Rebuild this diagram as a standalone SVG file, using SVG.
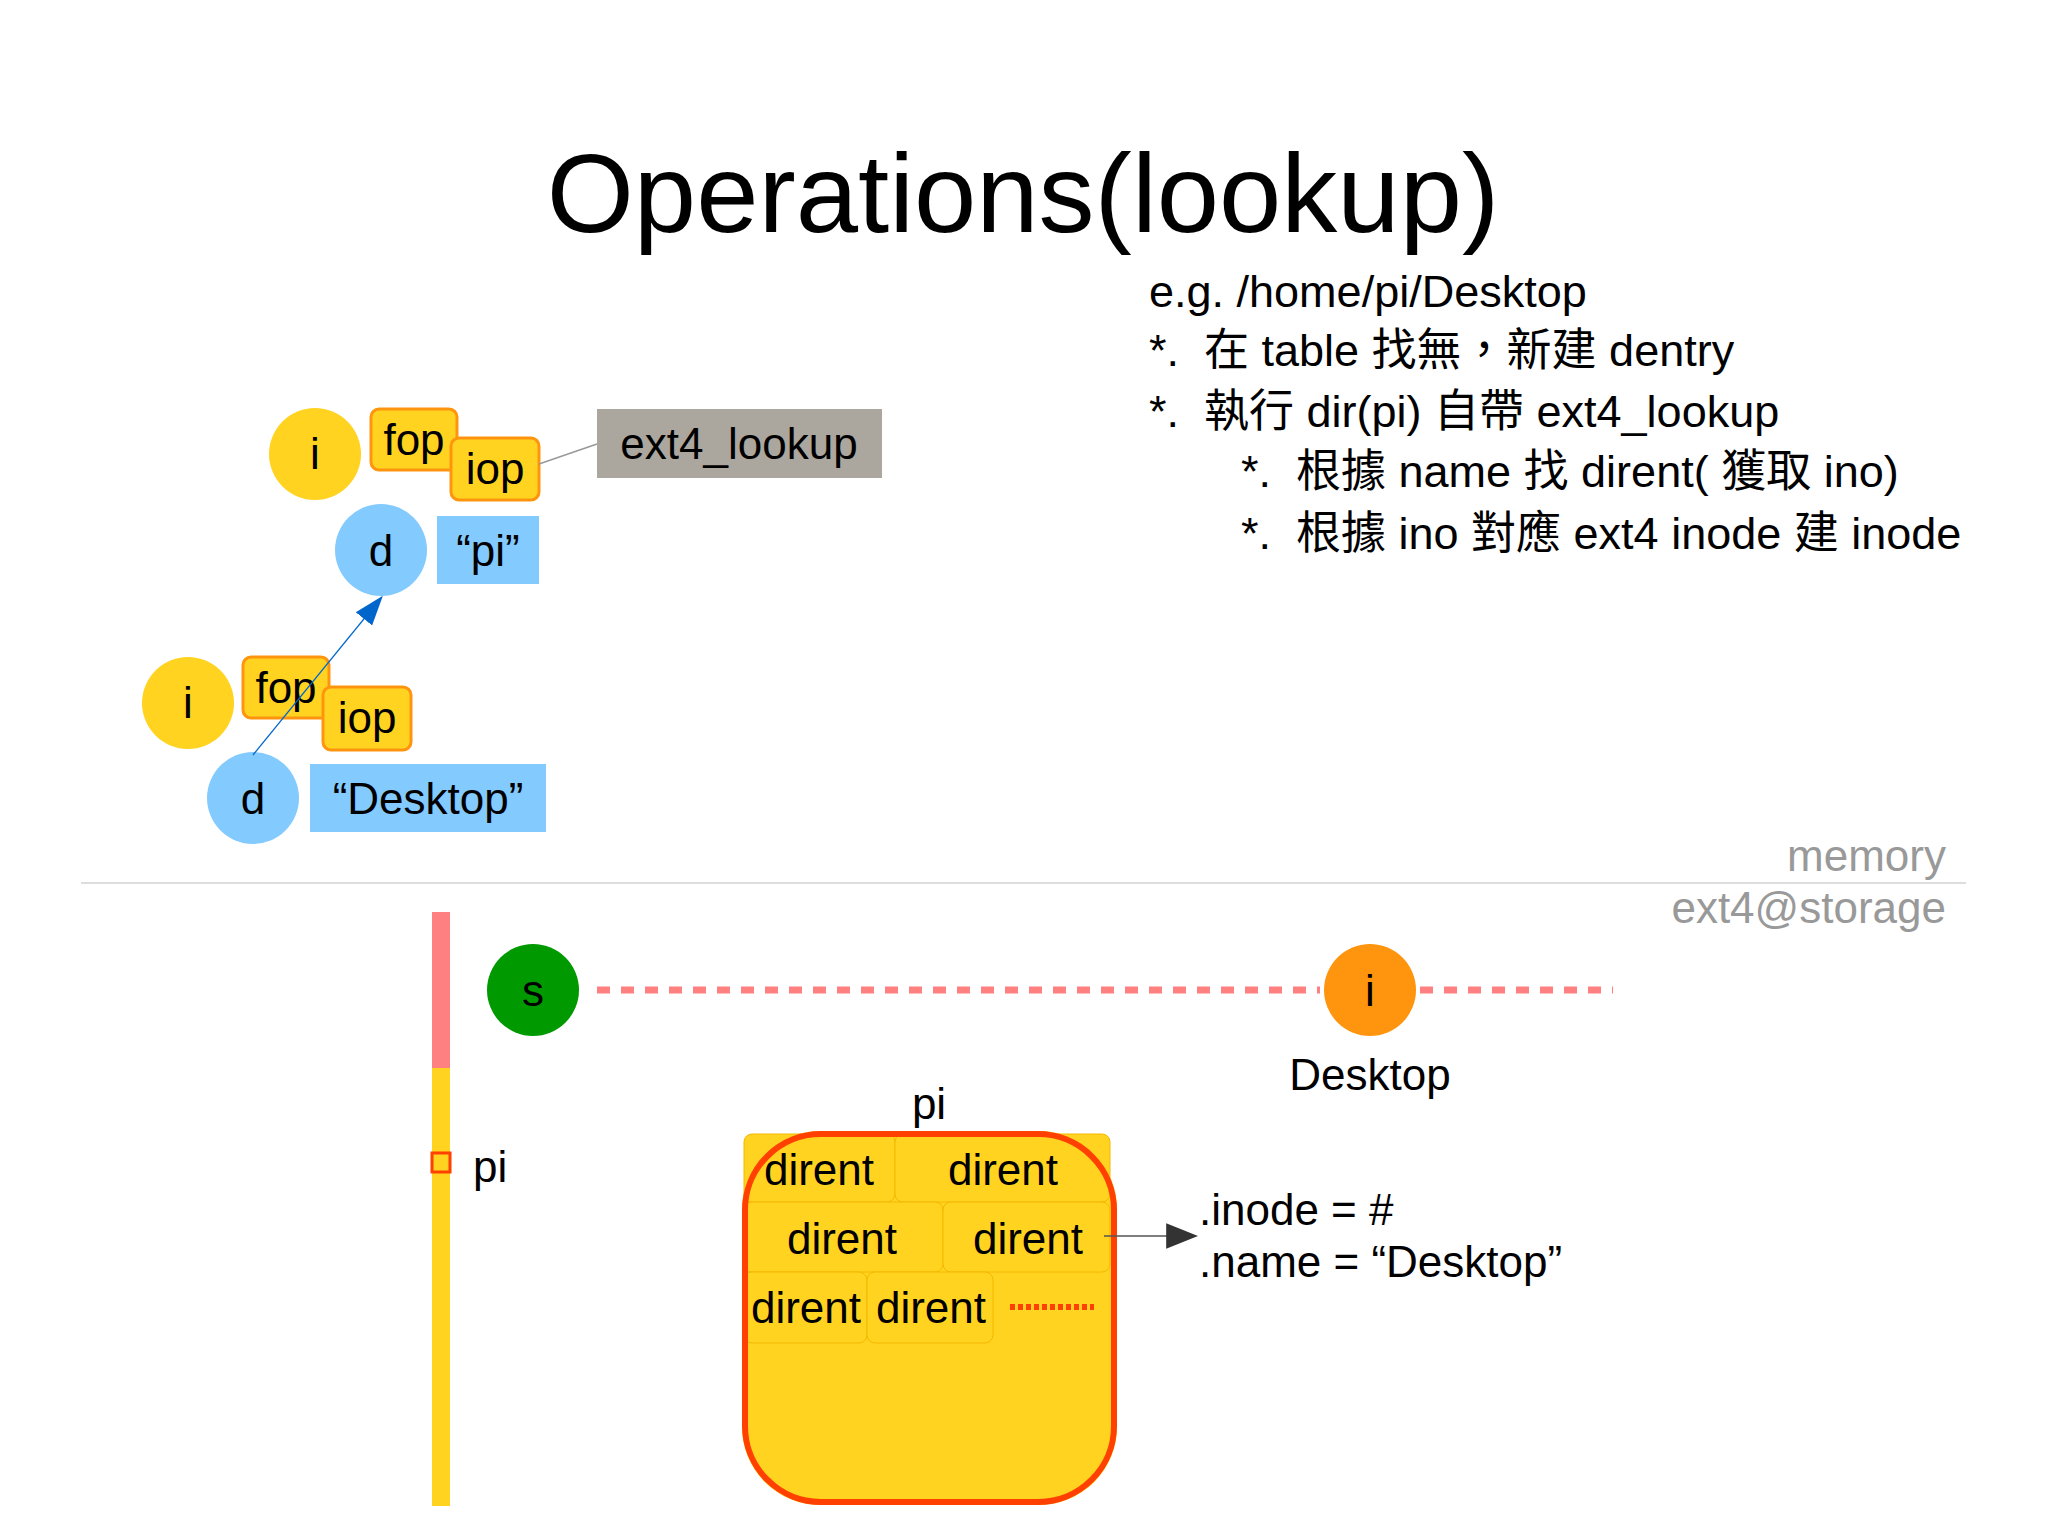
<svg xmlns="http://www.w3.org/2000/svg" width="2048" height="1535" viewBox="0 0 2048 1535">
<style>
text{font-family:"Liberation Sans","Noto Sans CJK TC",sans-serif;fill:#000}
.n{font-size:44px;text-anchor:middle}
.yb{fill:#ffd320;stroke:#ff950e;stroke-width:3}
.bb{fill:#83caff}
.dc{fill:#ffd320;stroke:#f5b800;stroke-width:1}
.r{font-size:45px}
.dash{stroke:#ff8080;stroke-width:7;stroke-dasharray:13,11}
</style>
<defs>
<marker id="ab" viewBox="0 0 10 10" refX="9" refY="5" markerWidth="30" markerHeight="30" markerUnits="userSpaceOnUse" orient="auto"><path d="M0,1.5L10,5L0,8.5z" fill="#0066cc"/></marker>
<marker id="ak" viewBox="0 0 10 10" refX="9" refY="5" markerWidth="32" markerHeight="32" markerUnits="userSpaceOnUse" orient="auto"><path d="M0,1L10,5L0,9z" fill="#333"/></marker>
</defs>
<rect width="2048" height="1535" fill="#fff"/>
<text x="1023" y="232" font-size="112" text-anchor="middle">Operations(lookup)</text>
<g class="r">
<text x="1149" y="307">e.g. /home/pi/Desktop</text>
<text x="1149" y="366">*.&#160;&#160;在 table 找無，新建 dentry</text>
<text x="1149" y="427">*.&#160;&#160;執行 dir(pi) 自帶 ext4_lookup</text>
<text x="1241" y="487">*.&#160;&#160;根據 name 找 dirent( 獲取 ino)</text>
<text x="1241" y="549">*.&#160;&#160;根據 ino 對應 ext4 inode 建 inode</text>
</g>
<g id="top-inode"><circle cx="315" cy="454" r="46" fill="#ffd320"/><text class="n" x="315" y="469">i</text></g>
<g id="top-fop"><rect class="yb" x="371" y="409" width="86" height="61" rx="8"/><text class="n" x="414" y="455">fop</text></g>
<g id="top-iop"><rect class="yb" x="451" y="438" width="88" height="62" rx="8"/><text class="n" x="495" y="484">iop</text></g>
<g id="top-d"><circle cx="381" cy="550" r="46" class="bb"/><text class="n" x="381" y="566">d</text></g>
<g id="top-name"><rect class="bb" x="437" y="516" width="102" height="68"/><text class="n" x="488" y="566">“pi”</text></g>
<g id="ext4-lookup"><rect x="597" y="409" width="285" height="69" fill="#aca79e"/><text class="n" x="739" y="459">ext4_lookup</text></g>
<g id="bot-inode"><circle cx="188" cy="703" r="46" fill="#ffd320"/><text class="n" x="188" y="718">i</text></g>
<g id="bot-fop"><rect class="yb" x="243" y="657" width="86" height="61" rx="8"/><text class="n" x="286" y="703">fop</text></g>
<g id="bot-iop"><rect class="yb" x="323" y="687" width="88" height="63" rx="8"/><text class="n" x="367" y="733">iop</text></g>
<g id="bot-d"><circle cx="253" cy="798" r="46" class="bb"/><text class="n" x="253" y="814">d</text></g>
<g id="bot-name"><rect class="bb" x="310" y="764" width="236" height="68"/><text class="n" x="428" y="814">“Desktop”</text></g>
<line x1="81" y1="883" x2="1966" y2="883" stroke="#ddd" stroke-width="2"/>
<text x="1946" y="871" font-size="44" text-anchor="end" style="fill:#999">memory</text>
<text x="1946" y="923" font-size="44" text-anchor="end" style="fill:#999">ext4@storage</text>
<g id="storage-bar">
<rect x="432" y="912" width="18" height="156" fill="#ff8080"/>
<rect x="432" y="1068" width="18" height="438" fill="#ffd320"/>
<rect x="432" y="1153" width="18" height="19" fill="#ffd320" stroke="#ff4000" stroke-width="3"/>
<text x="473" y="1182" font-size="44">pi</text>
</g>
<g id="superblock"><circle cx="533" cy="990" r="46" fill="#009900"/><text class="n" x="533" y="1006">s</text></g>
<g id="inode-desktop"><circle cx="1370" cy="990" r="46" fill="#ff950e"/><text class="n" x="1370" y="1006">i</text><text class="n" x="1370" y="1090">Desktop</text></g>
<g id="pi-block">
<text class="n" x="929" y="1119">pi</text>
<rect x="742" y="1131" width="375" height="374" rx="78" fill="#ffd320"/>
<rect class="dc" x="744" y="1134" width="151" height="68" rx="8"/><text class="n" x="819" y="1185">dirent</text>
<rect class="dc" x="895" y="1134" width="215" height="68" rx="8"/><text class="n" x="1003" y="1185">dirent</text>
<rect class="dc" x="744" y="1202" width="199" height="70" rx="8"/><text class="n" x="842" y="1254">dirent</text>
<rect class="dc" x="943" y="1202" width="167" height="70" rx="8"/><text class="n" x="1028" y="1254">dirent</text>
<rect class="dc" x="744" y="1272" width="123" height="71" rx="8"/><text class="n" x="806" y="1323">dirent</text>
<rect class="dc" x="867" y="1272" width="126" height="71" rx="8"/><text class="n" x="931" y="1323">dirent</text>
<line x1="1010" y1="1307" x2="1094" y2="1307" stroke="#ff4000" stroke-width="6" stroke-dasharray="5,3"/>
<rect x="745" y="1134" width="369" height="368" rx="76" fill="none" stroke="#ff4000" stroke-width="6"/>
</g>
<g id="dirent-fields">
<text x="1199" y="1225" font-size="44">.inode = #</text>
<text x="1199" y="1277" font-size="44">.name = “Desktop”</text>
</g>
<g id="connectors">
<line x1="539" y1="464" x2="597" y2="444" stroke="#999" stroke-width="1.5"/>
<line x1="253" y1="755" x2="381" y2="598" stroke="#0066cc" stroke-width="1.2" marker-end="url(#ab)"/>
<line class="dash" x1="597" y1="990" x2="1320" y2="990"/>
<line class="dash" x1="1420" y1="990" x2="1613" y2="990"/>
<line x1="1104" y1="1236" x2="1195" y2="1236" stroke="#555" stroke-width="1.5" marker-end="url(#ak)"/>
</g>
</svg>
